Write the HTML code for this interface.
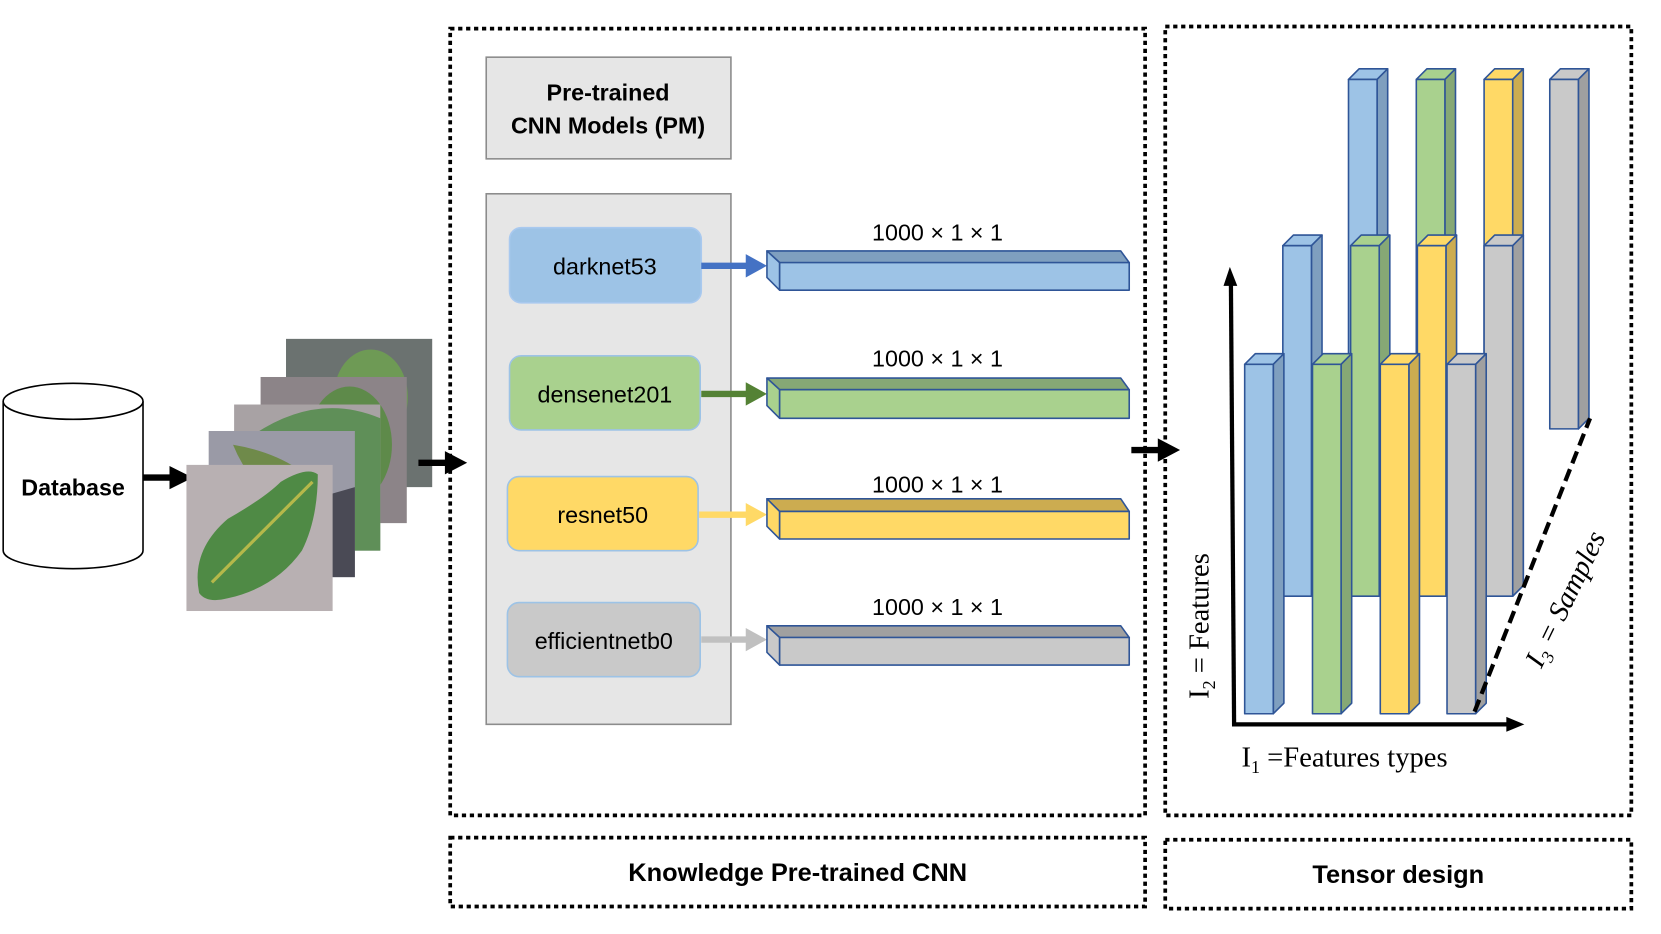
<!DOCTYPE html>
<html><head><meta charset="utf-8"><style>html,body{margin:0;padding:0;background:#fff}svg{display:block}</style></head>
<body>
<svg width="1661" height="934" viewBox="0 0 1568 882" preserveAspectRatio="none" xmlns="http://www.w3.org/2000/svg" font-family="Liberation Sans, sans-serif">
<!-- Database -->
<path d="M3,379 L3,520 A66,17 0 0 0 135,520 L135,379" fill="#fff" stroke="#000" stroke-width="1.5"/>
<ellipse cx="69" cy="379" rx="66" ry="17" fill="#fff" stroke="#000" stroke-width="1.5"/>
<text x="69" y="468" font-size="22" font-weight="bold" text-anchor="middle">Database</text>
<path d="M135,451 L162,451" stroke="#000" stroke-width="6"/>
<path d="M160,440 L182,451 L160,462 z" fill="#000"/>
<!-- images -->
<g>
<rect x="270" y="320" width="138" height="140" fill="#6b7270"/><ellipse cx="350" cy="375" rx="35" ry="45" fill="#6e9a55"/>
<rect x="246" y="356" width="138" height="138" fill="#8c8488"/><ellipse cx="330" cy="420" rx="40" ry="55" fill="#5e8a4a"/>
<rect x="221" y="382" width="138" height="138" fill="#a8a2a4"/><path d="M240,410 Q300,370 359,395 L359,520 L320,520 Q260,470 240,410z" fill="#5f8f58"/>
<rect x="197" y="407" width="138" height="138" fill="#9a9aa6"/><path d="M220,420 Q280,430 310,470 L300,500 Q240,470 220,420z" fill="#6f8a4a"/><path d="M300,470 L335,460 L335,545 L300,545z" fill="#4a4a55"/>
<rect x="176" y="439" width="138" height="138" fill="#b8b0b2"/>
<path d="M188,560 Q180,520 215,490 Q250,470 265,455 Q290,440 300,448 Q300,490 285,520 Q260,555 215,565 Q195,570 188,560z" fill="#4f8a45"/>
<path d="M200,550 Q250,500 295,455" stroke="#b5b84a" stroke-width="3" fill="none"/>
</g>
<path d="M395,437 L422,437" stroke="#000" stroke-width="6"/>
<path d="M420,426 L441,437 L420,448 z" fill="#000"/>
<!-- Main box -->
<g fill="none" stroke="#000" stroke-width="3.5" stroke-dasharray="4 3.5">
<rect x="425" y="27" width="656" height="743"/>
<rect x="425" y="791" width="656" height="65"/>
<rect x="1100" y="25" width="440" height="745"/>
<rect x="1100" y="793" width="440" height="65"/>
</g>
<text x="753" y="832" font-size="24" font-weight="bold" text-anchor="middle">Knowledge Pre-trained CNN</text>
<text x="1320" y="834" font-size="24" font-weight="bold" text-anchor="middle">Tensor design</text>
<rect x="459" y="54" width="231" height="96" fill="#e6e6e6" stroke="#8c8c8c" stroke-width="1.5"/>
<text x="574" y="95" font-size="22" font-weight="bold" text-anchor="middle">Pre-trained</text>
<text x="574" y="126" font-size="22" font-weight="bold" text-anchor="middle">CNN Models (PM)</text>
<rect x="459" y="183" width="231" height="501" fill="#e6e6e6" stroke="#8c8c8c" stroke-width="1.5"/>
<g font-size="22" text-anchor="middle" stroke-width="1.5">
<rect x="481" y="215" width="181" height="71" rx="11" fill="#9dc3e6" stroke="#a9c9ef"/>
<text x="571" y="259">darknet53</text>
<rect x="481" y="336" width="180" height="70" rx="11" fill="#a9d18e" stroke="#9dc3e6"/>
<text x="571" y="380">densenet201</text>
<rect x="479" y="450" width="180" height="70" rx="11" fill="#ffd966" stroke="#9dc3e6"/>
<text x="569" y="494">resnet50</text>
<rect x="479" y="569" width="182" height="70" rx="11" fill="#c9c9c9" stroke="#9dc3e6"/>
<text x="570" y="613">efficientnetb0</text>
</g>
<!-- arrows to bars -->
<g>
<path d="M662,251 L706,251" stroke="#4472c4" stroke-width="6"/><path d="M704,240 L724,251 L704,262z" fill="#4472c4"/>
<path d="M662,372 L706,372" stroke="#548235" stroke-width="6"/><path d="M704,361 L724,372 L704,383z" fill="#548235"/>
<path d="M660,486 L706,486" stroke="#ffd966" stroke-width="6"/><path d="M704,475 L724,486 L704,497z" fill="#ffd966"/>
<path d="M662,604 L706,604" stroke="#c0c0c0" stroke-width="6"/><path d="M704,593 L724,604 L704,615z" fill="#c0c0c0"/>
</g>
<!-- bars -->
<g stroke="#2f5597" stroke-width="1.5" stroke-linejoin="round">
<path d="M724,237 L1058,237 L1066,248 L736,248z" fill="#7f9fbf"/><path d="M724,237 L736,248 L736,274 L724,262z" fill="#9dc3e6"/><rect x="736" y="248" width="330" height="26" fill="#9dc3e6"/>
<path d="M724,357 L1058,357 L1066,368 L736,368z" fill="#86a875"/><path d="M724,357 L736,368 L736,395 L724,383z" fill="#a9d18e"/><rect x="736" y="368" width="330" height="27" fill="#a9d18e"/>
<path d="M724,471 L1058,471 L1066,483 L736,483z" fill="#ccac50"/><path d="M724,471 L736,483 L736,509 L724,497z" fill="#ffd966"/><rect x="736" y="483" width="330" height="26" fill="#ffd966"/>
<path d="M724,591 L1058,591 L1066,602 L736,602z" fill="#a0a0a0"/><path d="M724,591 L736,602 L736,628 L724,616z" fill="#c9c9c9"/><rect x="736" y="602" width="330" height="26" fill="#c9c9c9"/>
</g>
<g font-size="22" text-anchor="middle">
<text x="885" y="227">1000 × 1 × 1</text>
<text x="885" y="346">1000 × 1 × 1</text>
<text x="885" y="465">1000 × 1 × 1</text>
<text x="885" y="581">1000 × 1 × 1</text>
</g>
<path d="M1068,425 L1095,425" stroke="#000" stroke-width="6"/>
<path d="M1093,414 L1114,425 L1093,436 z" fill="#000"/>
<!-- tensor columns -->
<g stroke="#2f5597" stroke-width="1.5" stroke-linejoin="round">
<path d="M1273,75 L1283,65 L1310,65 L1300,75z" fill="#9dc3e6"/><path d="M1300,75 L1310,65 L1310,553 L1300,563z" fill="#7f9fbf"/><rect x="1273" y="75" width="27" height="488" fill="#9dc3e6"/>
<path d="M1337,75 L1347,65 L1374,65 L1364,75z" fill="#a9d18e"/><path d="M1364,75 L1374,65 L1374,553 L1364,563z" fill="#86a875"/><rect x="1337" y="75" width="27" height="488" fill="#a9d18e"/>
<path d="M1401,75 L1411,65 L1438,65 L1428,75z" fill="#ffd966"/><path d="M1428,75 L1438,65 L1438,553 L1428,563z" fill="#ccac50"/><rect x="1401" y="75" width="27" height="488" fill="#ffd966"/>
<path d="M1463,75 L1473,65 L1500,65 L1490,75z" fill="#c9c9c9"/><path d="M1490,75 L1500,65 L1500,395 L1490,405z" fill="#a0a0a0"/><rect x="1463" y="75" width="27" height="330" fill="#c9c9c9"/>
<path d="M1211,232 L1221,222 L1248,222 L1238,232z" fill="#9dc3e6"/><path d="M1238,232 L1248,222 L1248,553 L1238,563z" fill="#7f9fbf"/><rect x="1211" y="232" width="27" height="331" fill="#9dc3e6"/>
<path d="M1275,232 L1285,222 L1312,222 L1302,232z" fill="#a9d18e"/><path d="M1302,232 L1312,222 L1312,553 L1302,563z" fill="#86a875"/><rect x="1275" y="232" width="27" height="331" fill="#a9d18e"/>
<path d="M1338,232 L1348,222 L1375,222 L1365,232z" fill="#ffd966"/><path d="M1365,232 L1375,222 L1375,553 L1365,563z" fill="#ccac50"/><rect x="1338" y="232" width="27" height="331" fill="#ffd966"/>
<path d="M1401,232 L1411,222 L1438,222 L1428,232z" fill="#c9c9c9"/><path d="M1428,232 L1438,222 L1438,553 L1428,563z" fill="#a0a0a0"/><rect x="1401" y="232" width="27" height="331" fill="#c9c9c9"/>
<path d="M1175,344 L1185,334 L1212,334 L1202,344z" fill="#9dc3e6"/><path d="M1202,344 L1212,334 L1212,664 L1202,674z" fill="#7f9fbf"/><rect x="1175" y="344" width="27" height="330" fill="#9dc3e6"/>
<path d="M1239,344 L1249,334 L1276,334 L1266,344z" fill="#a9d18e"/><path d="M1266,344 L1276,334 L1276,664 L1266,674z" fill="#86a875"/><rect x="1239" y="344" width="27" height="330" fill="#a9d18e"/>
<path d="M1303,344 L1313,334 L1340,334 L1330,344z" fill="#ffd966"/><path d="M1330,344 L1340,334 L1340,664 L1330,674z" fill="#ccac50"/><rect x="1303" y="344" width="27" height="330" fill="#ffd966"/>
<path d="M1366,344 L1376,334 L1403,334 L1393,344z" fill="#c9c9c9"/><path d="M1393,344 L1403,334 L1403,664 L1393,674z" fill="#a0a0a0"/><rect x="1366" y="344" width="27" height="330" fill="#c9c9c9"/>
</g>
<!-- axes -->
<path d="M1165,684 L1162,268" stroke="#000" stroke-width="4" fill="none"/>
<path d="M1155,270 L1161,252 L1168,270z" fill="#000"/>
<path d="M1163,684 L1424,684" stroke="#000" stroke-width="4"/>
<path d="M1422,677 L1439,684 L1422,691z" fill="#000"/>
<path d="M1392,672 L1501,395" stroke="#000" stroke-width="4" stroke-dasharray="12 6"/>
<g font-family="Liberation Serif, serif" font-size="27">
<text x="1172" y="724">I<tspan font-size="17" dy="6">1</tspan><tspan dy="-6"> =Features  types</tspan></text>
<text transform="translate(1141,660) rotate(-90)">I<tspan font-size="17" dy="6">2</tspan><tspan dy="-6"> = Features</tspan></text>
<text transform="translate(1455,632) rotate(-64)" font-style="italic">I<tspan font-size="17" dy="6">3</tspan><tspan dy="-6"> = Samples</tspan></text>
</g>
</svg>
</body></html>
